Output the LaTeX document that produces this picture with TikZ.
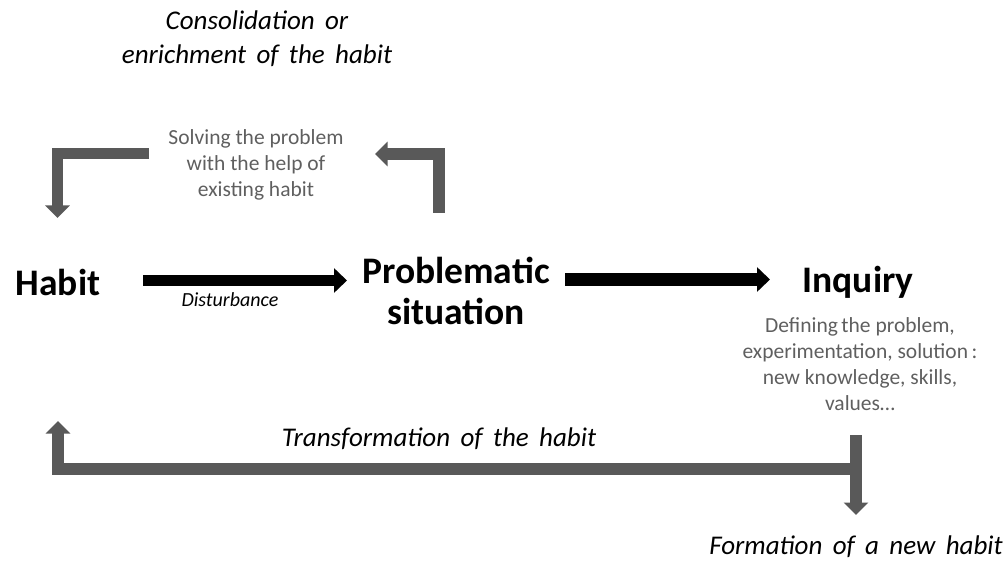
\documentclass[tikz,border=0pt]{standalone}
\usepackage{fontspec}
\setmainfont{Carlito}
\newfontfamily\wideitalic{Carlito Italic}[WordSpace=1.7]
\usetikzlibrary{arrows.meta}
\definecolor{arrowgray}{HTML}{595959}
\definecolor{notegray}{HTML}{5F5F5F}
\begin{document}
\begin{tikzpicture}[x=1bp,y=-1bp,
  keyterm/.style={font=\fontsize{37.5bp}{41bp}\selectfont\bfseries, inner sep=0pt, align=center},
  note/.style={font=\fontsize{21.5bp}{26bp}\selectfont, text=notegray, inner sep=0pt, align=center},
  outcome/.style={font=\wideitalic\fontsize{27bp}{34bp}\selectfont, inner sep=0pt, align=center},
  blackarrow/.style={line width=11.5bp, black, -{Triangle[length=13bp,width=24bp]}},
  grayarrow/.style={line width=11.5bp, arrowgray, line join=miter, -{Triangle[length=12.5bp,width=24bp]}}]
\useasboundingbox (0,0) rectangle (1008,562);

% main terms
\node[keyterm, anchor=base] (habit) at (58,296) {Habit};
\node[keyterm] (prob) at (456,291) {Problematic\\situation};
\node[keyterm, anchor=base] (inquiry) at (858,293) {Inquiry};

% explanatory notes
\node[note] (solving) at (256,165) {Solving the problem\\with the help of\\existing habit};
\node[note] (defining) at (860,364) {Defining\,the problem,\\experimentation, solution\,:\\new knowledge, skills,\\values\dots};
\node[font=\fontsize{20bp}{23bp}\selectfont\itshape, inner sep=0pt, anchor=base] (disturb) at (230,307) {Disturbance};

% outcomes
\node[outcome] (consol) at (257,39) {Consolidation or\\enrichment of the habit};
\node[outcome, anchor=base] (transf) at (439,446) {Transformation of the habit};
\node[outcome, anchor=base] (newhabit) at (856,554) {Formation of a new habit};

% connector end points
\coordinate (d1s) at (143,280.5);
\coordinate (d1e) at (347,280.5);
\coordinate (d2s) at (565,279.5);
\coordinate (d2e) at (770,279.5);
\coordinate (tlA) at (149,153.5);
\coordinate (tlB) at (57.5,153.5);
\coordinate (tlC) at (57.5,218);
\coordinate (trA) at (439,213);
\coordinate (trB) at (439,154);
\coordinate (trC) at (375,154);
\coordinate (bT) at (856,469);
\coordinate (bL) at (58,469);
\coordinate (bU) at (58,421);
\coordinate (bTop) at (856,435);
\coordinate (bBot) at (856,515);

% disturbance and inquiry arrows
\draw[blackarrow] (d1s) -- (d1e);
\draw[blackarrow, line width=12.5bp] (d2s) -- (d2e);

% loop back through the existing habit
\draw[grayarrow] (trA) -- (trB) -- (trC);
\draw[grayarrow] (tlA) -- (tlB) -- (tlC);

% transformation loop and new habit
\draw[grayarrow, line width=12.5bp] (bT) -- (bL) -- (bU);
\draw[grayarrow] (bTop) -- (bBot);
\end{tikzpicture}
\end{document}
